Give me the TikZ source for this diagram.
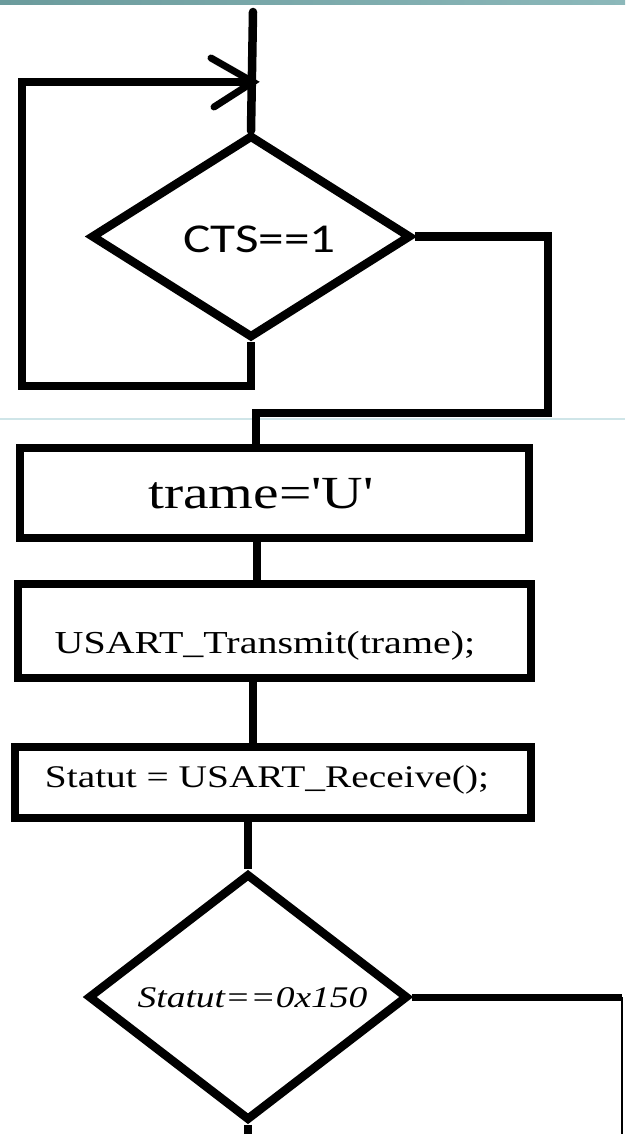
\documentclass[tikz,border=0pt]{standalone}
\usepackage{fontspec}
\usetikzlibrary{shapes.geometric,calc}
\newfontfamily\ctsfont[FakeStretch=1.25]{Carlito}
\newfontfamily\boxfont[FakeStretch=1.25]{Liberation Serif}
\definecolor{barleft}{HTML}{6B9B9C}
\definecolor{barright}{HTML}{8CB8BA}
\definecolor{faintline}{HTML}{CFE5E8}
\begin{document}
\begin{tikzpicture}[x=1pt,y=-1pt,
  flow/.style={line width=8.5pt, line join=miter},
  barb/.style={line width=7pt, line cap=round},
  decision/.style={draw, line width=8.5pt, diamond, inner sep=0pt, aspect=1.6},
  stepbox/.style={draw, line width=8.5pt, rectangle, inner sep=0pt},
  label/.style={inner sep=0pt, anchor=base}]
\useasboundingbox (0,0) rectangle (625,1134);
\fill[white] (0,0) rectangle (625,1134);

% header strip and page rule
\shade[left color=barleft, right color=barright] (0,0) rectangle (625,4.5);
\draw[faintline, line width=1.2pt] (0,419) -- (625,419);

% shapes
\node[decision, minimum width=320pt, minimum height=203pt] (d1) at (251,236.5) {};
\node[stepbox, minimum width=509pt, minimum height=90pt] (box1) at (274.5,493) {};
\node[stepbox, minimum width=513pt, minimum height=94pt] (box2) at (274.5,631) {};
\node[stepbox, minimum width=516pt, minimum height=71pt] (box3) at (273,782.5) {};
\node[decision, minimum width=320pt, minimum height=247pt] (d2) at (248,997) {};

% texts
\node[label] (t1) at (259.5,252) {\ctsfont\fontsize{41}{41}\selectfont CTS==1};
\node[label] (t2) at (261,508) {\boxfont\fontsize{46}{46}\selectfont trame='U'};
\node[label] (t3) at (265,653) {\boxfont\fontsize{32}{32}\selectfont USART\_Transmit(trame);};
\node[label] (t4) at (267,787) {\boxfont\fontsize{31.5}{31.5}\selectfont Statut = USART\_Receive();};
\node[label] (t5) at (252.5,1007) {\boxfont\itshape\fontsize{30}{30}\selectfont Statut==0x150};

% route points
\coordinate (start) at (253,12);
\coordinate (tip) at (253,82);
\coordinate (looptl) at (22,82);
\coordinate (loopbl) at (22,386);
\coordinate (rtop) at (548,238);
\coordinate (rbot) at (548,413);
\coordinate (rmid) at (256,413);
\coordinate (s1) at (257,0);
\coordinate (s2) at (253,0);
\coordinate (edge) at (0,1134);
\coordinate (rexit) at (622,997);

% connectors
\draw[flow, line cap=round] (start) -- (d1.north);
\draw[flow] (d1.south) -- (d1.south |- loopbl) -- (loopbl) -- (looptl) -- (tip);
\draw[barb] ($(tip)+(-42,-24)$) -- (tip) -- ($(tip)+(-39,25)$);
\draw[flow] (d1.east) -- (d1.east -| rtop) -- (rbot) -- (rmid) -- (box1.north -| rmid);
\draw[flow] (box1.south -| s1) -- (box2.north -| s1);
\draw[flow] (box2.south -| s2) -- (box3.north -| s2);
\draw[flow] (box3.south -| d2.north) -- (d2.north);
\draw[flow] (d2.south) -- (d2.south |- edge);
\draw[line width=7pt] (d2.east) -- (rexit);
\draw[line width=2.5pt] (rexit) -- (rexit |- edge);
\end{tikzpicture}
\end{document}
